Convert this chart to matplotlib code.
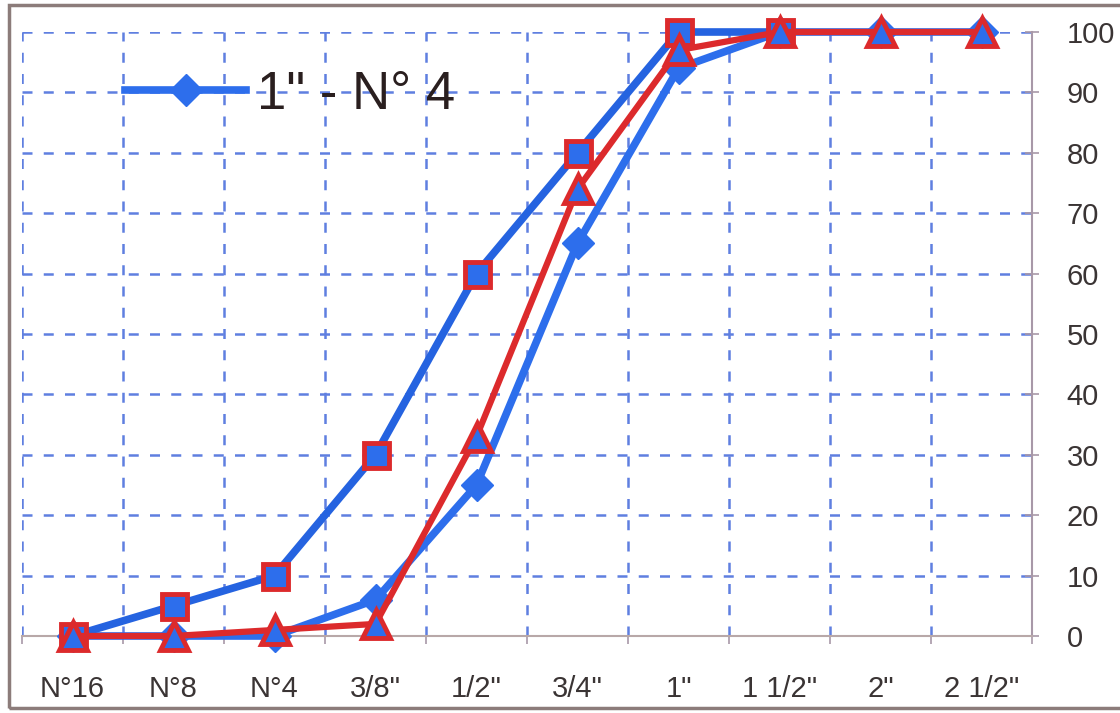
import numpy as np
import matplotlib.pyplot as plt
from matplotlib.patches import Rectangle

# categories (sieve sizes)
sizes = ['N°16', 'N°8', 'N°4', '3/8"', '1/2"', '3/4"', '1"', '1 1/2"', '2"', '2 1/2"']

# % passing
pasa_1_n4 = [0, 0, 0, 6, 25, 65, 94, 100, 100, 100]      # blue, diamonds
limite_sup = [0, 5, 10, 30, 60, 80, 100, 100]             # blue, squares (up to 1 1/2")
limite_inf = [0, 0, 1, 2, 33, 74, 97, 100, 100, 100]      # red, triangles

y_ticks = list(range(0, 101, 10))

blue = '#2d6eec'
red = '#dc2a2c'
grid_col = '#5f7fe0'
axis_col = '#a898a8'
txt_col = '#3a3434'

plt.rcParams['font.family'] = ['Liberation Sans', 'DejaVu Sans']

fig = plt.figure(figsize=(11.2, 7.13), dpi=100)
ax = fig.add_axes([22 / 1120, 1 - 636 / 713, 1010 / 1120, 604 / 713])

x = np.arange(len(sizes))

ax.plot(x, pasa_1_n4, color=blue, lw=5.5, marker='D', ms=16, mfc=blue, mec=blue,
        clip_on=False, zorder=4, label='1" - N° 4')
ax.plot(x[:len(limite_sup)], limite_sup, color='#2563e0', lw=5.5, marker='s', ms=18,
        mfc=blue, mec=red, mew=3.5, clip_on=False, zorder=5)
ax.plot(x, limite_inf, color=red, lw=4.5, marker='^', ms=20,
        mfc=blue, mec=red, mew=3.5, clip_on=False, zorder=6)

ax.set_xlim(-0.5, len(sizes) - 0.5)
ax.set_ylim(0, 100)

# category boundaries carry ticks and grid, labels sit in the middle
ax.set_xticks(np.arange(-0.5, len(sizes), 1))
ax.set_xticklabels([])
ax.set_xticks(x, labels=sizes, minor=True)
ax.tick_params(axis='x', which='major', length=6, width=1.2, color=axis_col, direction='out')
ax.tick_params(axis='x', which='minor', length=0, pad=28, labelsize=21, labelcolor=txt_col)

ax.yaxis.tick_right()
ax.set_yticks(y_ticks)
ax.tick_params(axis='y', length=10, width=1.2, color=axis_col, direction='inout',
               pad=20, labelsize=21, labelcolor=txt_col)

ax.grid(True, which='major', color=grid_col, lw=1.8, linestyle=(0, (4, 4.5)), zorder=1)
ax.set_axisbelow(True)

for s in ['left', 'top']:
    ax.spines[s].set_visible(False)
ax.spines['right'].set_color(axis_col)
ax.spines['right'].set_linewidth(1.5)
ax.spines['bottom'].set_color('#b8a8a8')
ax.spines['bottom'].set_linewidth(1.5)
ax.spines['right'].set_zorder(3)
ax.spines['bottom'].set_zorder(3)

leg = ax.legend(loc='center left', bbox_to_anchor=(0.102, 0.896), frameon=False,
                fontsize=38, handlelength=2.3, handletextpad=0.2, borderpad=0,
                borderaxespad=0)
for t in leg.get_texts():
    t.set_color('#2a1f1f')

# outer frame of the picture
fig.patches.append(Rectangle((0.008, 0.007), 1.1, 0.986, transform=fig.transFigure,
                             fill=False, edgecolor='#8c7c7a', lw=2.5))

fig.savefig('out.png', dpi=100)
